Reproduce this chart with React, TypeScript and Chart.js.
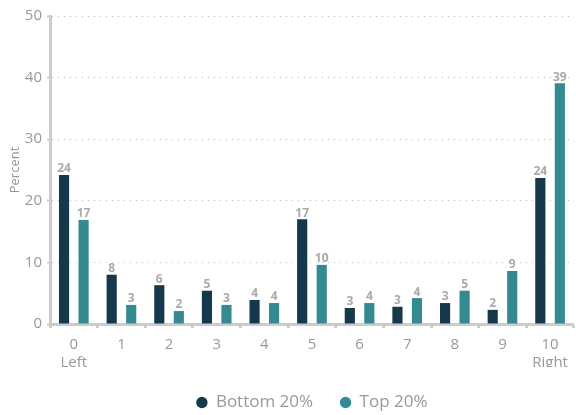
import React, { useEffect, useRef } from "react";
import { Chart, registerables } from "chart.js";

Chart.register(...registerables);

const categories: string[][] = [["0", "Left"], ["1"], ["2"], ["3"], ["4"], ["5"], ["6"], ["7"], ["8"], ["9"], ["10", "Right"]];
const bottomValues = [24.2, 8.0, 6.3, 5.4, 3.9, 17.0, 2.6, 2.8, 3.4, 2.3, 23.7];
const topValues = [16.9, 3.1, 2.1, 3.1, 3.4, 9.6, 3.4, 4.2, 5.4, 8.6, 39.1];
const bottomLabels = ["24", "8", "6", "5", "4", "17", "3", "3", "3", "2", "24"];
const topLabels = ["17", "3", "2", "3", "4", "10", "4", "4", "5", "9", "39"];
const yTicks = [0, 10, 20, 30, 40, 50];

const FONT = "'Open Sans', Lato, sans-serif";

const valueLabels = {
  id: "valueLabels",
  afterDatasetsDraw(chart: any) {
    const ctx = chart.ctx;
    ctx.save();
    ctx.font = `bold 12px ${FONT}`;
    ctx.fillStyle = "#aaaaaa";
    ctx.textAlign = "center";
    ctx.textBaseline = "bottom";
    const lists = [bottomLabels, topLabels];
    chart.data.datasets.forEach((_ds: any, i: number) => {
      const meta = chart.getDatasetMeta(i);
      meta.data.forEach((bar: any, j: number) => {
        ctx.fillText(lists[i][j], bar.x, bar.y);
      });
    });
    ctx.restore();
  },
};

export default function App() {
  const ref = useRef<HTMLCanvasElement>(null);
  useEffect(() => {
    if (!ref.current) return;
    const chart = new Chart(ref.current, {
      type: "bar",
      data: {
        labels: categories as any,
        datasets: [
          { label: "Bottom 20%", data: bottomValues, backgroundColor: "#15394b", borderWidth: 0, categoryPercentage: 0.82, barPercentage: 0.52 },
          { label: "Top 20%", data: topValues, backgroundColor: "#338a91", borderWidth: 0, categoryPercentage: 0.82, barPercentage: 0.52 },
        ],
      },
      options: {
        animation: false,
        responsive: true,
        maintainAspectRatio: false,
        layout: { padding: { top: 16, right: 1, left: 0, bottom: -6 } },
        plugins: {
          legend: {
            position: "bottom",
            fullSize: false,
            labels: {
              usePointStyle: true,
              pointStyle: "circle",
              boxWidth: 11,
              boxHeight: 8,
              padding: 27,
              color: "#999999",
              font: { family: FONT, size: 17 },
            },
          },
          tooltip: { enabled: false },
        },
        scales: {
          x: {
            afterFit: (s: any) => { s.height = 43; },
            grid: { display: true, drawOnChartArea: false, offset: true, tickLength: 4, tickWidth: 3, tickColor: "#cccccc" },
            border: { display: true, color: "#cccccc", width: 3 },
            ticks: { color: "#999999", font: { family: FONT, size: 15 }, padding: 8, maxRotation: 0 },
          },
          y: {
            min: 0,
            max: 50,
            afterBuildTicks: (s: any) => { s.ticks = yTicks.map((v) => ({ value: v })); },
            afterFit: (s: any) => { s.width = 50; },
            grid: { color: "#bbbbbb", lineWidth: 1, tickLength: 3, tickWidth: 2, tickColor: "#cccccc", tickBorderDash: [] },
            border: { display: true, color: "#cccccc", width: 3, dash: [1, 5] },
            ticks: { color: "#999999", font: { family: FONT, size: 15 }, padding: 5 },
            title: { display: true, text: "Percent", color: "#999999", font: { family: FONT, size: 13 }, padding: { top: 7, bottom: 0 } },
          },
        },
      },
      plugins: [valueLabels],
    });
    return () => chart.destroy();
  }, []);
  return (
    <div style={{ position: "absolute", left: 0, top: 0, width: 576, height: 415 }}>
      <canvas ref={ref} />
    </div>
  );
}
